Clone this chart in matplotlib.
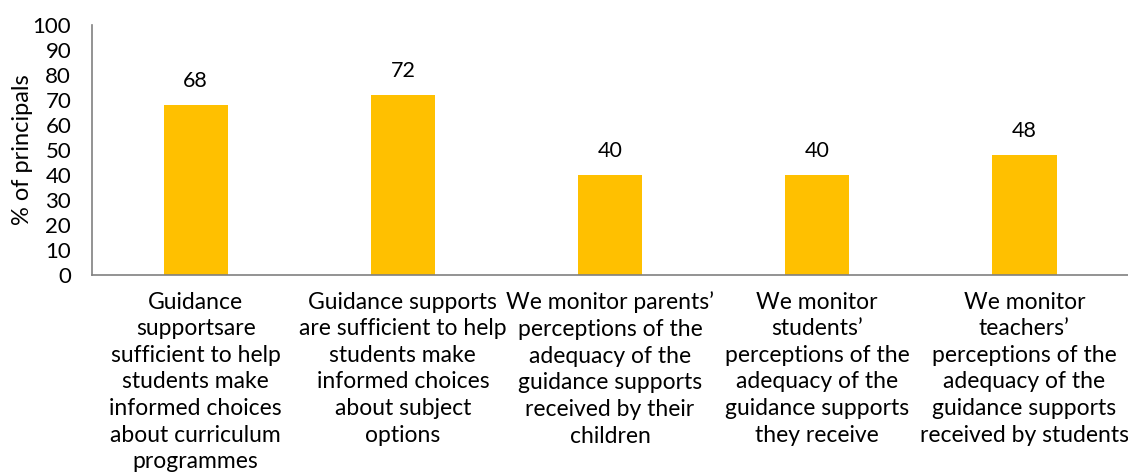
import matplotlib
matplotlib.use("Agg")
import matplotlib.pyplot as plt

categories = [
    "Guidance\nsupportsare\nsufficient to help\nstudents make\ninformed choices\nabout curriculum\nprogrammes",
    "Guidance supports\nare sufficient to help\nstudents make\ninformed choices\nabout subject\noptions",
    "We monitor parents’\nperceptions of the\nadequacy of the\nguidance supports\nreceived by their\nchildren",
    "We monitor\nstudents’\nperceptions of the\nadequacy of the\nguidance supports\nthey receive",
    "We monitor\nteachers’\nperceptions of the\nadequacy of the\nguidance supports\nreceived by students",
]
values = [68, 72, 40, 40, 48]
yticks = list(range(0, 101, 10))

plt.rcParams['font.family'] = ['Lato', 'DejaVu Sans']

fig = plt.figure(figsize=(11.28, 4.76), dpi=100)
ax = fig.add_axes([0.0816, 0.4223, 0.9184, 0.5252])

x = list(range(len(categories)))
bars = ax.bar(x, values, width=0.31, color="#FFC000")
for b, v in zip(bars, values):
    ax.annotate(f"{v}", (b.get_x() + b.get_width() / 2, v), xytext=(0, 10),
                textcoords="offset points", ha="center", va="bottom", fontsize=15.5)

ax.set_xlim(-0.5, len(categories) - 0.5)
ax.set_ylim(0, 100)
ax.set_yticks(yticks)
ax.set_yticklabels([str(t) for t in yticks], fontsize=16)
ax.set_xticks(x)
ax.set_xticklabels(categories, fontsize=16.5, linespacing=1.33, va="top")
ax.tick_params(axis="y", length=0, pad=15)
ax.tick_params(axis="x", length=0, pad=12)
ax.set_ylabel("% of principals", fontsize=17, labelpad=0)

for s in ["top", "right"]:
    ax.spines[s].set_visible(False)
for s in ["left", "bottom"]:
    ax.spines[s].set_color("#808080")
    ax.spines[s].set_linewidth(1.2)

fig.savefig("out.png", dpi=100)
